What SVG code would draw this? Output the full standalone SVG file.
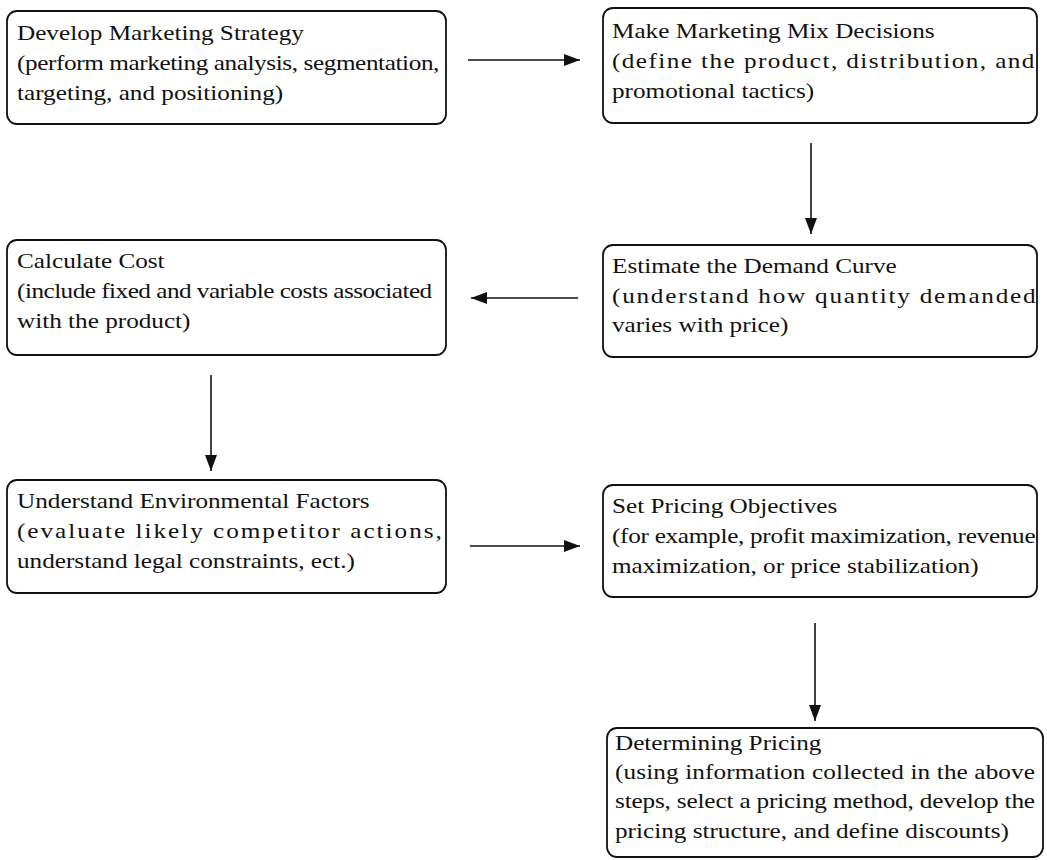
<svg xmlns="http://www.w3.org/2000/svg" width="1047" height="860" viewBox="0 0 1047 860">
<style>
.box{fill:#fff;stroke:#111;stroke-width:1.8}
.t{font-family:"Liberation Serif","Times New Roman",serif;font-size:21px;fill:#111}
.c{stroke:#111;stroke-width:1.6;fill:none}
</style>
<defs>
<marker id="ah" viewBox="0 0 16 12" refX="16" refY="6" markerWidth="16" markerHeight="12" markerUnits="userSpaceOnUse" orient="auto">
<path d="M0,0 L16,6 L0,12 Z" fill="#111"/>
</marker>
</defs>
<rect width="1047" height="860" fill="#fff"/>
<g id="connectors">
<line class="c" x1="468" y1="60" x2="580" y2="60" marker-end="url(#ah)"/>
<line class="c" x1="811" y1="143" x2="811" y2="234" marker-end="url(#ah)"/>
<line class="c" x1="578" y1="298" x2="471" y2="298" marker-end="url(#ah)"/>
<line class="c" x1="211" y1="375" x2="211" y2="471" marker-end="url(#ah)"/>
<line class="c" x1="470" y1="546" x2="580" y2="546" marker-end="url(#ah)"/>
<line class="c" x1="815" y1="623" x2="815" y2="721" marker-end="url(#ah)"/>
</g>
<g id="n1">
<rect class="box" x="7" y="11" width="439" height="113" rx="10"/>
<text class="t" transform="translate(17,40) scale(1.2,1)">Develop Marketing Strategy</text>
<text class="t" transform="translate(17,70) scale(1.2,1)" textLength="352" lengthAdjust="spacing">(perform marketing analysis, segmentation,</text>
<text class="t" transform="translate(17,100) scale(1.2,1)">targeting, and positioning)</text>
</g>
<g id="n2">
<rect class="box" x="603" y="8" width="434" height="115" rx="10"/>
<text class="t" transform="translate(612,38) scale(1.2,1)">Make Marketing Mix Decisions</text>
<text class="t" transform="translate(612,68) scale(1.2,1)" textLength="352" lengthAdjust="spacing">(define the product, distribution, and</text>
<text class="t" transform="translate(612,98) scale(1.2,1)">promotional tactics)</text>
</g>
<g id="n3">
<rect class="box" x="7" y="240" width="439" height="115" rx="10"/>
<text class="t" transform="translate(17,268) scale(1.2,1)">Calculate Cost</text>
<text class="t" transform="translate(17,298) scale(1.2,1)" textLength="346" lengthAdjust="spacing">(include fixed and variable costs associated</text>
<text class="t" transform="translate(17,328) scale(1.2,1)">with the product)</text>
</g>
<g id="n4">
<rect class="box" x="603" y="245" width="434" height="112" rx="10"/>
<text class="t" transform="translate(612,273) scale(1.2,1)">Estimate the Demand Curve</text>
<text class="t" transform="translate(612,303) scale(1.2,1)" textLength="353" lengthAdjust="spacing">(understand how quantity demanded</text>
<text class="t" transform="translate(612,332) scale(1.2,1)">varies with price)</text>
</g>
<g id="n5">
<rect class="box" x="7" y="480" width="439" height="113" rx="10"/>
<text class="t" transform="translate(17,508) scale(1.2,1)">Understand Environmental Factors</text>
<text class="t" transform="translate(17,538) scale(1.2,1)" textLength="354" lengthAdjust="spacing">(evaluate likely competitor actions,</text>
<text class="t" transform="translate(17,568) scale(1.2,1)">understand legal constraints, ect.)</text>
</g>
<g id="n6">
<rect class="box" x="603" y="485" width="434" height="112" rx="10"/>
<text class="t" transform="translate(612,513) scale(1.2,1)">Set Pricing Objectives</text>
<text class="t" transform="translate(612,543) scale(1.2,1)" textLength="353" lengthAdjust="spacing">(for example, profit maximization, revenue</text>
<text class="t" transform="translate(612,573) scale(1.2,1)">maximization, or price stabilization)</text>
</g>
<g id="n7">
<rect class="box" x="607" y="728" width="436" height="129" rx="10"/>
<text class="t" transform="translate(615,750) scale(1.2,1)">Determining Pricing</text>
<text class="t" transform="translate(615,779) scale(1.2,1)" textLength="350" lengthAdjust="spacing">(using information collected in the above</text>
<text class="t" transform="translate(615,808) scale(1.2,1)" textLength="350" lengthAdjust="spacing">steps, select a pricing method, develop the</text>
<text class="t" transform="translate(615,838) scale(1.2,1)">pricing structure, and define discounts)</text>
</g>
</svg>
